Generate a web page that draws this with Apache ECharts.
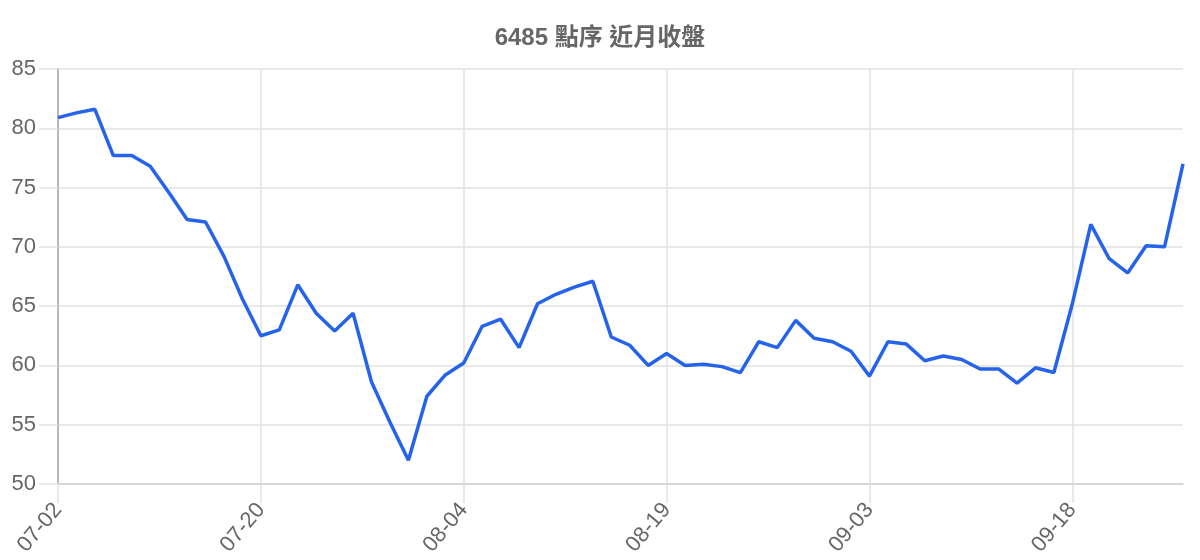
<!DOCTYPE html>
<html>
<head>
<meta charset="utf-8">
<script src="https://cdn.jsdelivr.net/npm/echarts@6/dist/echarts.min.js"></script>
<style>html,body{margin:0;padding:0;background:#fff}#c{width:1200px;height:560px}</style>
</head>
<body>
<div id="c"></div>
<script>
var chartTitle = '6485 點序 近月收盤';
var dates = [
  '07-02','07-05','07-06','07-07','07-08','07-12','07-13','07-14','07-15','07-16','07-19','07-20',
  '07-21','07-22','07-23','07-26','07-27','07-28','07-29','07-30','08-02','08-03','08-04',
  '08-05','08-06','08-09','08-10','08-11','08-12','08-13','08-16','08-17','08-18','08-19',
  '08-20','08-23','08-24','08-25','08-26','08-27','08-30','08-31','09-01','09-02','09-03',
  '09-06','09-07','09-08','09-09','09-10','09-13','09-14','09-15','09-16','09-17','09-18',
  '09-22','09-23','09-24','09-27','09-28','09-29'
];
var closes = [
  80.9,81.3,81.6,77.7,77.7,76.8,74.6,72.3,72.1,69.2,65.6,62.5,
  63.0,66.8,64.4,62.9,64.4,58.6,55.2,52.0,57.4,59.2,60.2,
  63.3,63.9,61.5,65.2,66.0,66.6,67.1,62.4,61.7,60.0,61.0,
  60.0,60.1,59.9,59.4,62.0,61.5,63.8,62.3,62.0,61.2,59.1,
  62.0,61.8,60.4,60.8,60.5,59.7,59.7,58.5,59.8,59.4,65.2,
  71.9,69.0,67.8,70.1,70.0,77.0
];
var yMin = 50, yMax = 85, yStep = 5;

var chart = echarts.init(document.getElementById('c'));
chart.setOption({
  animation: false,
  title: {
    text: chartTitle,
    left: 'center',
    top: 21,
    textStyle: {
      fontSize: 24, fontWeight: 'bold', color: '#666',
      fontFamily: 'Liberation Sans, "Noto Sans CJK TC", sans-serif'
    }
  },
  grid: { left: 58, right: 17, top: 69, bottom: 76 },
  xAxis: {
    type: 'category',
    data: dates,
    boundaryGap: false,
    axisLine: { show: true, lineStyle: { color: '#d0d0d0', width: 1.5 } },
    axisTick: { show: true, interval: 10, length: 19, lineStyle: { color: '#e2e2e2', width: 1.5 } },
    splitLine: { show: true, interval: 10, lineStyle: { color: '#e2e2e2', width: 1.5 } },
    axisLabel: {
      interval: 10, rotate: 50, color: '#666', fontSize: 22, margin: 22,
      fontFamily: 'Liberation Sans, sans-serif'
    }
  },
  yAxis: {
    type: 'value',
    min: yMin, max: yMax, interval: yStep,
    axisLine: { show: true, lineStyle: { color: '#aaa', width: 1.5 } },
    axisTick: { show: true, length: 19, lineStyle: { color: '#e2e2e2', width: 1.5 } },
    splitLine: { show: true, lineStyle: { color: '#e2e2e2', width: 1.5 } },
    axisLabel: {
      color: '#666', fontSize: 22, margin: 22,
      fontFamily: 'Liberation Sans, sans-serif'
    }
  },
  series: [{
    type: 'line',
    data: closes,
    showSymbol: false,
    symbol: 'none',
    lineStyle: { color: '#2563eb', width: 3.5 },
    itemStyle: { color: '#2563eb' }
  }]
});
</script>
</body>
</html>
